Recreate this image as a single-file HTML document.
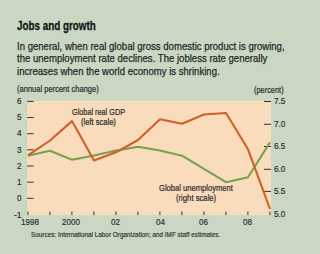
<!DOCTYPE html>
<html><head><meta charset="utf-8">
<style>
html,body{margin:0;padding:0;}
body{width:300px;height:254px;background:#cad8c3;position:relative;overflow:hidden;font-family:"Liberation Sans",sans-serif;color:#2b2b2b;}
.t{position:absolute;white-space:nowrap;transform-origin:0 0;line-height:1;}
#title{left:17.2px;top:18.8px;font-size:13px;font-weight:bold;color:#151515;transform:scaleX(0.758);-webkit-text-stroke:0.3px #151515;}
.body{left:17px;font-size:11px;transform:scaleX(0.870);color:#262626;-webkit-text-stroke:0.25px #262626;}
.lab{font-size:8.5px;-webkit-text-stroke:0.2px #2b2b2b;}
.num{font-size:9.5px;transform:scaleX(0.9);color:#2e2e2e;-webkit-text-stroke:0.2px #2e2e2e;}
svg{position:absolute;left:0;top:0;}
</style></head><body>
<div class="t" id="title">Jobs and growth</div>
<div class="t body" style="top:40.5px">In general, when real global gross domestic product is growing,</div>
<div class="t body" style="top:53.3px">the unemployment rate declines. The jobless rate generally</div>
<div class="t body" style="top:66.4px">increases when the world economy is shrinking.</div>
<div class="t lab" style="left:17px;top:85px;transform:scaleX(0.887)">(annual percent change)</div>
<div class="t lab" style="left:254px;top:85.5px;transform:scaleX(0.87)">(percent)</div>
<svg width="300" height="254" viewBox="0 0 300 254">
<rect x="27.2" y="101" width="243.8" height="114" fill="#f8dcbc"/>
<g stroke="#3d3026" stroke-width="1">
<line x1="27.2" y1="101.4" x2="33.6" y2="101.4"/>
<line x1="27.2" y1="117.5" x2="33.6" y2="117.5"/>
<line x1="27.2" y1="133.7" x2="33.6" y2="133.7"/>
<line x1="27.2" y1="149.8" x2="33.6" y2="149.8"/>
<line x1="27.2" y1="166.0" x2="33.6" y2="166.0"/>
<line x1="27.2" y1="182.2" x2="33.6" y2="182.2"/>
<line x1="27.2" y1="198.3" x2="33.6" y2="198.3"/>
<line x1="264" y1="101.5" x2="271" y2="101.5"/>
<line x1="264" y1="124.3" x2="271" y2="124.3"/>
<line x1="264" y1="146.5" x2="271" y2="146.5"/>
<line x1="264" y1="169.3" x2="271" y2="169.3"/>
<line x1="264" y1="191.4" x2="271" y2="191.4"/>
<line x1="27.9" y1="211.5" x2="27.9" y2="215"/>
<line x1="49.9" y1="211.5" x2="49.9" y2="215"/>
<line x1="71.9" y1="211.5" x2="71.9" y2="215"/>
<line x1="93.9" y1="211.5" x2="93.9" y2="215"/>
<line x1="115.9" y1="211.5" x2="115.9" y2="215"/>
<line x1="137.9" y1="211.5" x2="137.9" y2="215"/>
<line x1="159.9" y1="211.5" x2="159.9" y2="215"/>
<line x1="181.9" y1="211.5" x2="181.9" y2="215"/>
<line x1="203.9" y1="211.5" x2="203.9" y2="215"/>
<line x1="225.9" y1="211.5" x2="225.9" y2="215"/>
<line x1="247.9" y1="211.5" x2="247.9" y2="215"/>
<line x1="269.9" y1="211.5" x2="269.9" y2="215"/>
</g>
<polyline fill="none" stroke="#74a250" stroke-width="2.1" stroke-linejoin="round" points="28,155.8 50,150.8 72,159.8 94,155.5 116,150.6 138,146.8 160,150.5 182,155.7 204,168.8 226,182.2 248,177.2 270,142.4"/>
<polyline fill="none" stroke="#d35f28" stroke-width="2.1" stroke-linejoin="round" points="28,155.3 50,140.5 72,121.1 94,160.6 116,152.3 138,140.0 160,119.3 182,123.8 204,114.5 226,113 248,149.3 270,209"/>
</svg>
<div class="t num" style="left:17.2px;top:96.18px;transform:scaleX(0.85)">6</div>
<div class="t num" style="left:17.2px;top:112.28px;transform:scaleX(0.85)">5</div>
<div class="t num" style="left:17.2px;top:128.38px;transform:scaleX(0.85)">4</div>
<div class="t num" style="left:17.2px;top:144.78px;transform:scaleX(0.85)">3</div>
<div class="t num" style="left:17.2px;top:160.68px;transform:scaleX(0.85)">2</div>
<div class="t num" style="left:17.2px;top:177.08px;transform:scaleX(0.85)">1</div>
<div class="t num" style="left:17.2px;top:193.08px;transform:scaleX(0.85)">0</div>
<div class="t num" style="left:13.8px;top:209.68px">-1</div>
<div class="t num" style="left:273.5px;top:95.98px;transform:scaleX(0.86)">7.5</div>
<div class="t num" style="left:273.5px;top:118.68px;transform:scaleX(0.86)">7.0</div>
<div class="t num" style="left:273.5px;top:141.48px;transform:scaleX(0.86)">6.5</div>
<div class="t num" style="left:273.5px;top:163.98px;transform:scaleX(0.86)">6.0</div>
<div class="t num" style="left:273.5px;top:186.38px;transform:scaleX(0.86)">5.5</div>
<div class="t num" style="left:273.5px;top:209.28px;transform:scaleX(0.86)">5.0</div>
<div class="t num" style="left:20.7px;top:216.78px;transform:scaleX(0.85)">1998</div>
<div class="t num" style="left:61.5px;top:216.78px;transform:scaleX(0.85)">2000</div>
<div class="t num" style="left:111.0px;top:216.78px;transform:scaleX(0.85)">02</div>
<div class="t num" style="left:155.6px;top:216.78px;transform:scaleX(0.85)">04</div>
<div class="t num" style="left:199.2px;top:216.78px;transform:scaleX(0.85)">06</div>
<div class="t num" style="left:242.8px;top:216.78px;transform:scaleX(0.85)">08</div>
<div class="t lab" style="left:72px;top:108px;transform:scaleX(0.857)">Global real GDP</div>
<div class="t lab" style="left:81px;top:118px;transform:scaleX(0.89)">(left scale)</div>
<div class="t lab" style="left:159px;top:184.3px;transform:scaleX(0.893)">Global unemployment</div>
<div class="t lab" style="left:176px;top:194.3px;transform:scaleX(0.905)">(right scale)</div>
<div class="t" style="left:30.7px;top:230.8px;font-size:7px;transform:scaleX(0.91);-webkit-text-stroke:0.15px #2b2b2b;">Sources: International Labor Organization; and IMF staff estimates.</div>
</body></html>
